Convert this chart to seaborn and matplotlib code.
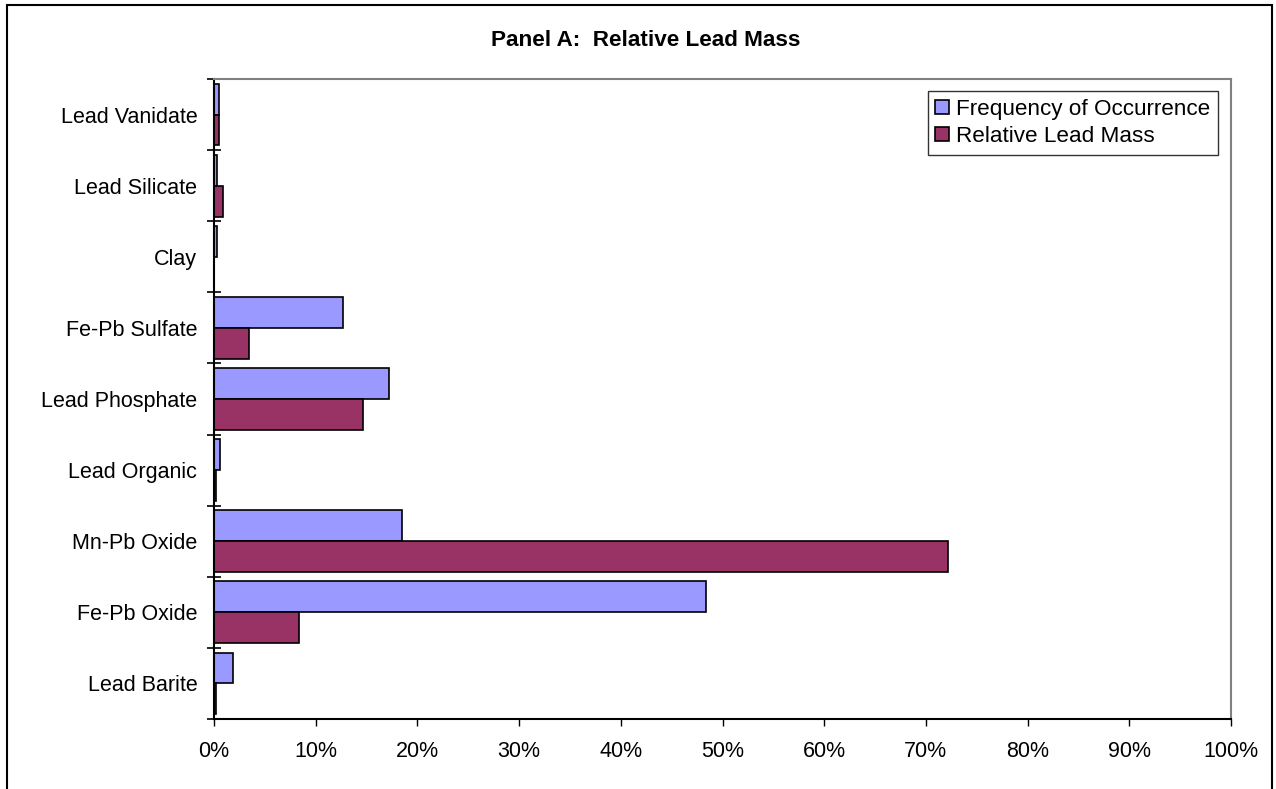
import matplotlib
matplotlib.use('Agg')
import matplotlib.pyplot as plt
import seaborn as sns
import pandas as pd
import numpy as np
from matplotlib.ticker import PercentFormatter, FixedLocator
from matplotlib.patches import Rectangle

minerals = ['Lead Vanidate', 'Lead Silicate', 'Clay', 'Fe-Pb Sulfate', 'Lead Phosphate',
            'Lead Organic', 'Mn-Pb Oxide', 'Fe-Pb Oxide', 'Lead Barite']
freq = [0.5, 0.25, 0.25, 12.7, 17.2, 0.55, 18.5, 48.4, 1.9]
mass = [0.45, 0.85, 0.0, 3.4, 14.7, 0.15, 72.2, 8.4, 0.15]
series = ['Frequency of Occurrence', 'Relative Lead Mass']
colors = ['#9999FF', '#993366']

df = pd.DataFrame({
    'mineral': minerals * 2,
    'pct': freq + mass,
    'series': [series[0]] * len(minerals) + [series[1]] * len(minerals),
})

sns.set_style('white')
plt.rcParams['font.family'] = ['Liberation Sans', 'DejaVu Sans']
plt.rcParams['text.color'] = 'black'
plt.rcParams['xtick.color'] = 'black'
plt.rcParams['ytick.color'] = 'black'
plt.rcParams['axes.labelcolor'] = 'black'

fig = plt.figure(figsize=(12.76, 7.89), dpi=100)
ax = fig.add_axes([214/1276, 1 - 719/789, (1231-214)/1276, (719-79)/789])

sns.barplot(data=df, y='mineral', x='pct', hue='series', hue_order=series, order=minerals,
            orient='h', palette=colors, edgecolor='black', linewidth=1.2, width=0.87,
            saturation=1, ax=ax)

ax.set_xlim(0, 100)
ax.set_xticks(np.arange(0, 101, 10))
ax.xaxis.set_major_formatter(PercentFormatter(xmax=100, decimals=0))
ax.set_xlabel('')
ax.set_ylabel('')

# category boundary ticks on y axis
ax.yaxis.set_minor_locator(FixedLocator(np.arange(-0.5, len(minerals), 1)))
ax.tick_params(axis='y', which='major', length=0, pad=12, labelsize=15.5, labelcolor='black')
ax.tick_params(axis='y', which='minor', length=10, direction='inout', width=1.2, color='black', left=True)
ax.tick_params(axis='x', which='major', length=5, direction='out', width=1, color='black',
               bottom=True, pad=11, labelsize=15.5, labelcolor='black')

for side in ['left', 'bottom']:
    ax.spines[side].set_color('black')
    ax.spines[side].set_linewidth(1.5)
for side in ['top', 'right']:
    ax.spines[side].set_color('#808080')
    ax.spines[side].set_linewidth(1.5)

leg = ax.legend(loc='upper right', bbox_to_anchor=(0.987, 0.981), borderaxespad=0,
                fontsize=16.2, frameon=True, fancybox=False, edgecolor='black',
                handlelength=0.6, handleheight=0.6, handletextpad=0.3,
                borderpad=0.35, labelspacing=0.25)
leg.get_frame().set_linewidth(1)
for t in leg.get_texts():
    t.set_color('black')

fig.text(0.506, 1 - 40/789, 'Panel A:  Relative Lead Mass', ha='center', va='center',
         fontsize=16.2, fontweight='bold', color='black')

fig.patches.append(Rectangle((7/1276, -0.1), (1272-7)/1276, 1.1 - 5/789, transform=fig.transFigure,
                             fill=False, edgecolor='black', linewidth=1.5))

fig.savefig('out.png', dpi=100)
